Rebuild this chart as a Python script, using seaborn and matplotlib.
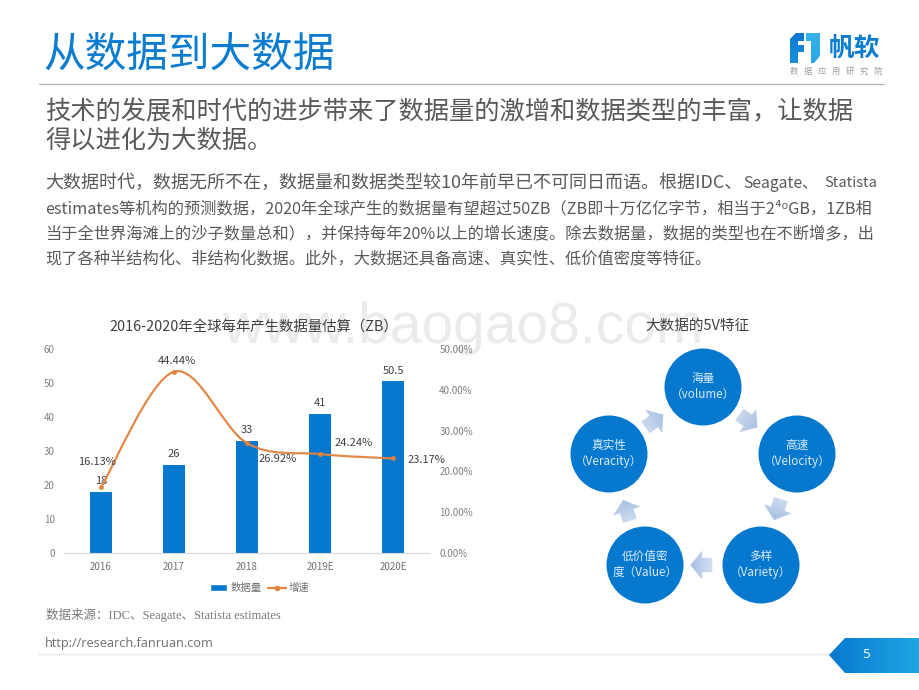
import numpy as np
import matplotlib
matplotlib.use("Agg")
import matplotlib.pyplot as plt
import seaborn as sns
from matplotlib.colors import LinearSegmentedColormap
from matplotlib.lines import Line2D
from matplotlib.patches import Circle, PathPatch, Polygon, Rectangle
from matplotlib.path import Path

years = ["2016", "2017", "2018", "2019E", "2020E"]
data_volume = [18, 26, 33, 41, 50.5]
growth = [16.13, 44.44, 26.92, 24.24, 23.17]
growth_labels = ["16.13%", "44.44%", "26.92%", "24.24%", "23.17%"]
left_ticks = [0, 10, 20, 30, 40, 50, 60]
right_ticks = [0, 10, 20, 30, 40, 50]

page_title = "从数据到大数据"
subtitle = ["技术的发展和时代的进步带来了数据量的激增和数据类型的丰富，让数据", "得以进化为大数据。"]
body_first = ["大数据时代，数据无所不在，数据量和数据类型较10年前早已不可同日而语。根据IDC、", "Seagate、", "Statista"]
body = [
    "estimates等机构的预测数据，2020年全球产生的数据量有望超过50ZB（ZB即十万亿亿字节，相当于2⁴⁰GB，1ZB相",
    "当于全世界海滩上的沙子数量总和），并保持每年20%以上的增长速度。除去数据量，数据的类型也在不断增多，出",
    "现了各种半结构化、非结构化数据。此外，大数据还具备高速、真实性、低价值密度等特征。",
]
chart_title = "2016-2020年全球每年产生数据量估算（ZB）"
v_title = "大数据的5V特征"
v_labels = ["海量\n（volume）", "高速\n（Velocity）", "多样\n（Variety）", "低价值密\n度（Value）", "真实性\n（Veracity）"]
source = "数据来源：IDC、Seagate、Statista estimates"
url = "http://research.fanruan.com"

BLUE = "#0679cf"
ORANGE = "#e2823f"
CJK = ["Noto Sans CJK SC", "DejaVu Sans"]

sns.set_theme(style="white")
plt.rcParams["font.family"] = CJK

fig = plt.figure(figsize=(9.2, 6.9), dpi=100)
page = fig.add_axes([0, 0, 1, 1])
page.set_xlim(0, 920)
page.set_ylim(690, 0)
page.axis("off")


def gradient_poly(points, c1, c2, angle, zorder=2):
    # linear gradient along angle (degrees, screen coords), clipped to a polygon
    pts = np.array(points, dtype=float)
    x0, y0 = pts.min(axis=0)
    x1, y1 = pts.max(axis=0)
    xx, yy = np.meshgrid(np.linspace(x0, x1, 64), np.linspace(y0, y1, 64))
    t = xx * np.cos(np.radians(angle)) + yy * np.sin(np.radians(angle))
    cmap = LinearSegmentedColormap.from_list("g", [c1, c2])
    im = page.imshow(t, extent=(x0, x1, y1, y0), origin="upper", aspect="auto", cmap=cmap, zorder=zorder)
    patch = Polygon(pts, closed=True, transform=page.transData, fc="none", ec="none")
    page.add_patch(patch)
    im.set_clip_path(patch)


def block_arrow(cx, cy, angle, size=17):
    # block arrow pointing along angle, tail is the lighter end
    shape = np.array([[-0.55, -0.42], [0.05, -0.42], [0.05, -0.85], [0.75, 0], [0.05, 0.85], [0.05, 0.42], [-0.55, 0.42]])
    a = np.radians(angle)
    rot = np.array([[np.cos(a), -np.sin(a)], [np.sin(a), np.cos(a)]])
    pts = shape @ rot.T * size + [cx, cy]
    gradient_poly(pts, "#d5e1f1", "#a3bde2", angle)


# watermark
page.text(222, 343, "www.baogao8.com", family="Liberation Sans", fontsize=41, color="#ebebeb", va="baseline", ha="left", zorder=0)

# header
page.text(43, 55, page_title, fontsize=30, color="#0b7ccf", va="center", ha="left")
page.plot([39, 884], [84, 84], color="#b8b8b8", lw=1)
for txt, y in zip(subtitle, [112, 141]):
    page.text(45, y, txt, fontsize=18.2, color="#595959", va="center", ha="left")
for txt, x, fs in zip(body_first, [45, 743, 824], [13, 11.3, 10.6]):
    page.text(x, 183, txt, fontsize=fs, color="#595959", va="center", ha="left")
for txt, y in zip(body, [209, 234, 259]):
    page.text(45, y, txt, fontsize=11.68, color="#595959", va="center", ha="left")

# logo
gradient_poly([(790, 39), (796, 33), (804, 33), (804, 41), (798, 41), (798, 45), (804, 45), (804, 52), (798, 52), (798, 63), (790, 63)], "#0a78cf", "#1a8fdc", 90)
gradient_poly([(806, 33), (820, 33), (820, 56), (814, 63), (811, 63), (811, 41), (806, 41)], "#35b4ec", "#2aa5e6", 90)
page.text(855, 48, "帆软", fontsize=18.5, fontweight="bold", color="#0b7ccf", va="center", ha="center")
page.text(836, 71, "数   据   应   用   研   究   院", fontsize=6, color="#a0a0a0", va="center", ha="center")

# footer
page.text(46, 615, source, family=["Liberation Serif", "Noto Sans CJK SC"], fontsize=9, color="#7a7a7a", va="center", ha="left")
page.text(45, 643, url, family="Open Sans", fontsize=9.15, color="#707070", va="center", ha="left")
page.plot([38, 832], [654, 654], color="#e8e8e8", lw=1)
gradient_poly([(829, 655), (845, 638), (920, 638), (920, 673), (845, 673)], "#0879cf", "#1fa6e4", 0)
page.text(866, 655, "5", family="Open Sans", fontsize=9.5, color="white", va="center", ha="center", zorder=4)

# 5V diagram
page.text(697, 326, v_title, fontsize=10.5, color="#404040", va="center", ha="center")
v_centers = [(703, 387), (797, 454), (761, 565), (645, 565), (609, 454)]
for (cx, cy), lab in zip(v_centers, v_labels):
    page.add_patch(Circle((cx, cy), 38.5, fc=BLUE, ec="none", zorder=3))
    page.text(cx, cy - 0.5, lab, fontsize=8.4, color="#dcebf7", va="center", ha="center", linespacing=1.3, zorder=4)
for cx, cy, ang in [(747, 420, 36), (778, 508, 108), (703, 565, 180), (627, 512, 252), (653, 422, 324)]:
    block_arrow(cx, cy, ang)

# bar chart with growth line on the second axis
ax = fig.add_axes([64.5 / 920, 1 - 553 / 690, 365 / 920, 204 / 690])
ax.patch.set_alpha(0)
sns.barplot(x=years, y=data_volume, color=BLUE, saturation=1, width=0.315, linewidth=0, ax=ax)
ax.set_xlim(-0.5, 4.5)
ax.set_ylim(0, 60)
ax.set_yticks(left_ticks)
ax.bar_label(ax.containers[0], labels=[f"{v:g}" for v in data_volume], padding=4, fontsize=8, color="#404040")
ax.tick_params(axis="x", length=0, pad=6.5, labelsize=7, labelcolor="#707070")
ax.tick_params(axis="y", length=0, pad=7, labelsize=7, labelcolor="#808080")
sns.despine(ax=ax, left=True, right=True, top=True)
ax.spines["bottom"].set_color("#d9d9d9")
ax.spines["bottom"].set_linewidth(0.8)

ax2 = ax.twinx()
ax2.patch.set_alpha(0)
x_pos = np.arange(len(years))
# Excel style smoothed line: bezier through the data points
verts = [(x_pos[0], growth[0])]
codes = [Path.MOVETO]
pts = np.column_stack([x_pos, growth])
for i in range(len(pts) - 1):
    p0 = pts[max(i - 1, 0)]
    p1, p2 = pts[i], pts[i + 1]
    p3 = pts[min(i + 2, len(pts) - 1)]
    verts += [tuple(p1 + (p2 - p0) / 6), tuple(p2 - (p3 - p1) / 6), tuple(p2)]
    codes += [Path.CURVE4] * 3
ax2.add_patch(PathPatch(Path(verts, codes), fc="none", ec=ORANGE, lw=1.6, alpha=0.95))
sns.lineplot(x=x_pos, y=growth, marker="o", markersize=3.5, color=ORANGE, linewidth=0, ax=ax2, markeredgewidth=0)
ax2.set_xlim(-0.5, 4.5)
ax2.set_ylim(0, 50)
ax2.set_yticks(right_ticks)
ax2.set_yticklabels([f"{t:.2f}%" for t in right_ticks])
ax2.tick_params(axis="y", length=0, pad=7, labelsize=7, labelcolor="#808080")
for s in ax2.spines.values():
    s.set_visible(False)
label_offsets = [(-4, 25), (3, 11), (31, -16), (34, 11), (33, -1.5)]
for x, y, lab, (dx, dy) in zip(x_pos, growth, growth_labels, label_offsets):
    ax2.annotate(lab, (x, y), xytext=(dx * 0.72, dy * 0.72), textcoords="offset points",
                 fontsize=8, color="#404040", ha="center", va="center")

page.text(254, 327, chart_title, fontsize=10.4, color="#404040", va="center", ha="center")
handles = [Rectangle((0, 0), 1, 1, fc=BLUE), Line2D([], [], color=ORANGE, lw=1.6, marker="o", markersize=3)]
fig.legend(handles, ["数据量", "增速"], loc="center", bbox_to_anchor=(259.5 / 920, 1 - 588 / 690), ncol=2, frameon=False,
           fontsize=7.5, labelcolor="#707070", handlelength=1.7, handleheight=0.55, handletextpad=0.3, columnspacing=0.6)

fig.savefig("out.png", dpi=100)
